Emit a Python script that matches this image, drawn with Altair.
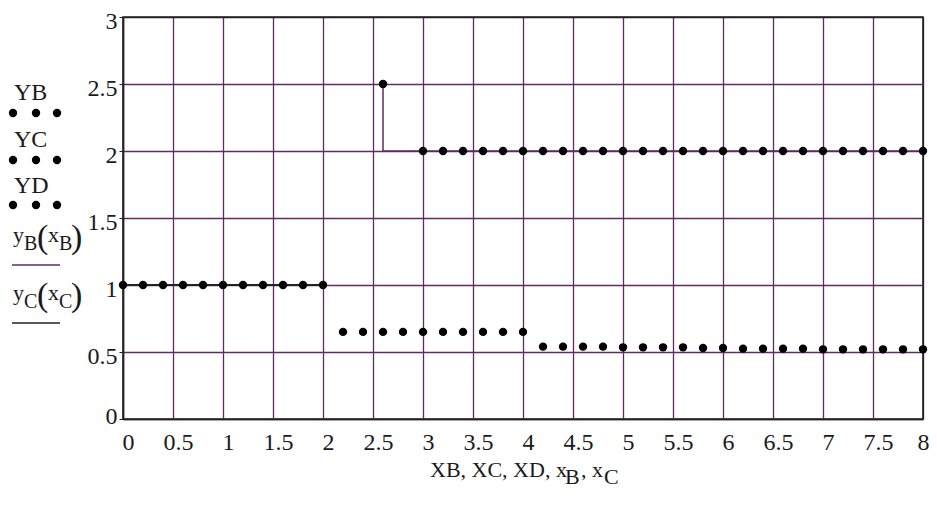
import altair as alt
import pandas as pd

FONT = "Liberation Serif"
PURPLE = "#612b61"
DARK = "#222222"

# ---- data ----
# YB points (y = 1 plateau)
XB = [0.0, 0.2, 0.4, 0.6, 0.8, 1.0, 1.2, 1.4, 1.6, 1.8, 2.0]
YB = [1.0, 1.0, 1.0, 1.0, 1.0, 1.0, 1.0, 1.0, 1.0, 1.0, 1.0]
# YB upper plateau points (y = 2)
XB2 = [3.0, 3.2, 3.4, 3.6, 3.8, 4.0, 4.2, 4.4, 4.6, 4.8, 5.0, 5.2, 5.4,
       5.6, 5.8, 6.0, 6.2, 6.4, 6.6, 6.8, 7.0, 7.2, 7.4, 7.6, 7.8, 8.0]
YB2 = [2.0, 2.0, 2.0, 2.0, 2.0, 2.0, 2.0, 2.0, 2.0, 2.0, 2.0, 2.0, 2.0,
       2.0, 2.0, 2.0, 2.0, 2.0, 2.0, 2.0, 2.0, 2.0, 2.0, 2.0, 2.0, 2.0]
# spike point
XS = [2.6]
YS = [2.5]
# YC points
XC = [2.2, 2.4, 2.6, 2.8, 3.0, 3.2, 3.4, 3.6, 3.8, 4.0]
YC = [0.65, 0.65, 0.65, 0.65, 0.65, 0.65, 0.65, 0.65, 0.65, 0.65]
# YD points
XD = [4.2, 4.4, 4.6, 4.8, 5.0, 5.2, 5.4, 5.6, 5.8, 6.0,
      6.2, 6.4, 6.6, 6.8, 7.0, 7.2, 7.4, 7.6, 7.8, 8.0]
YD = [0.54, 0.54, 0.54, 0.54, 0.535, 0.535, 0.535, 0.535, 0.53, 0.53,
      0.525, 0.525, 0.525, 0.525, 0.52, 0.52, 0.52, 0.52, 0.52, 0.52]
# line y_B(x_B)
LBX = [2.6, 2.6, 8.0]
LBY = [2.5, 2.0, 2.0]
# line y_C(x_C)
LCX = [0.0, 2.0]
LCY = [1.0, 1.0]

X_TICKS = [0, 0.5, 1, 1.5, 2, 2.5, 3, 3.5, 4, 4.5, 5, 5.5, 6, 6.5, 7, 7.5, 8]
Y_TICKS = [0, 0.5, 1, 1.5, 2, 2.5, 3]

pts = pd.concat([
    pd.DataFrame({"x": XB, "y": YB, "s": "YB"}),
    pd.DataFrame({"x": XB2, "y": YB2, "s": "YB"}),
    pd.DataFrame({"x": XS, "y": YS, "s": "YB"}),
    pd.DataFrame({"x": XC, "y": YC, "s": "YC"}),
    pd.DataFrame({"x": XD, "y": YD, "s": "YD"}),
], ignore_index=True)

lb = pd.DataFrame({"x": LBX, "y": LBY, "i": list(range(len(LBX)))})
lc = pd.DataFrame({"x": LCX, "y": LCY, "i": list(range(len(LCX)))})

xscale = alt.Scale(domain=[0, 8], nice=False, zero=False)
yscale = alt.Scale(domain=[0, 3], nice=False, zero=False)

xaxis = alt.Axis(
    values=X_TICKS, format="~g", title=None, grid=True,
    gridColor={"condition": {"test": "datum.value >= 8", "value": DARK}, "value": PURPLE},
    gridWidth=1.3, ticks=False, domainColor=DARK, domainWidth=1.6,
    labelFont=FONT, labelFontSize=24, labelColor="#1a1a1a", labelPadding=11,
    labelOffset={"condition": {"test": "datum.value >= 8", "value": 0}, "value": 5},
    labelFlush=False, labelOverlap=False,
)
yaxis = alt.Axis(
    values=Y_TICKS, format="~g", title=None, grid=True,
    gridColor={"condition": {"test": "datum.value >= 3", "value": DARK}, "value": PURPLE},
    gridWidth=1.3, ticks=True, tickSize=4, tickColor=DARK, domainColor=DARK, domainWidth=1.6,
    labelFont=FONT, labelFontSize=24, labelColor="#1a1a1a", labelPadding=2,
    labelOffset={"condition": {"test": "datum.value <= 0", "value": -3}, "value": 4},
    labelFlush=False, labelOverlap=False,
)

base_pts = alt.Chart(pts).mark_circle(size=70, color="black", opacity=1).encode(
    x=alt.X("x:Q", scale=xscale, axis=xaxis),
    y=alt.Y("y:Q", scale=yscale, axis=yaxis),
)

line_b = alt.Chart(lb).mark_line(color=PURPLE, strokeWidth=1.5).encode(
    x=alt.X("x:Q", scale=xscale), y=alt.Y("y:Q", scale=yscale), order="i:Q")
line_c = alt.Chart(lc).mark_line(color=DARK, strokeWidth=1.8).encode(
    x=alt.X("x:Q", scale=xscale), y=alt.Y("y:Q", scale=yscale), order="i:Q")

one = pd.DataFrame({"k": [0]})
OX, OY = 123, 17  # plot origin on the page


def txt(s, px, py, size=24):
    return alt.Chart(one).mark_text(
        text=s, align="left", baseline="alphabetic", font=FONT,
        fontSize=size, color="#1a1a1a",
    ).encode(x=alt.value(px - OX), y=alt.value(py - OY))


def dot(px, py):
    return alt.Chart(one).mark_circle(size=70, color="black", opacity=1).encode(
        x=alt.value(px - OX), y=alt.value(py - OY))


def hline(px1, px2, py, color, w):
    return alt.Chart(one).mark_rule(color=color, strokeWidth=w).encode(
        x=alt.value(px1 - OX), x2=alt.value(px2 - OX), y=alt.value(py - OY))


deco = []
# legend: labels with dotted symbols
for label, ty, dy in [("YB", 100, 113), ("YC", 147, 160), ("YD", 193, 205)]:
    deco.append(txt(label, 14, ty))
    for dx in (13, 36, 57):
        deco.append(dot(dx, dy))
# y_B(x_B)
deco += [txt("y", 13, 242, 22), txt("B", 24, 250, 20), txt("(", 37, 248, 34),
         txt("x", 48, 242, 22), txt("B", 59, 250, 20), txt(")", 71, 248, 34)]
deco.append(hline(12, 60, 265, PURPLE, 1.6))
# y_C(x_C)
deco += [txt("y", 13, 300, 22), txt("C", 24, 308, 20), txt("(", 37, 306, 34),
         txt("x", 48, 300, 22), txt("C", 59, 308, 20), txt(")", 71, 306, 34)]
deco.append(hline(12, 60, 323, DARK, 1.6))
# x axis title with subscripts
deco += [txt("XB, XC, XD, x", 430, 477, 22), txt("B", 565, 484, 22),
         txt(", x", 581, 477, 22), txt("C", 604, 484, 22)]

chart = alt.layer(line_b, line_c, base_pts, *deco).properties(
    width=800, height=402,
    autosize=alt.AutoSizeParams(type="none"),
    padding={"left": 115, "top": 9, "right": 6, "bottom": 79},
    background="white",
).configure_view(stroke=DARK, strokeWidth=1.6)

chart.save("out.html", embed_options={"renderer": "svg", "actions": False})
